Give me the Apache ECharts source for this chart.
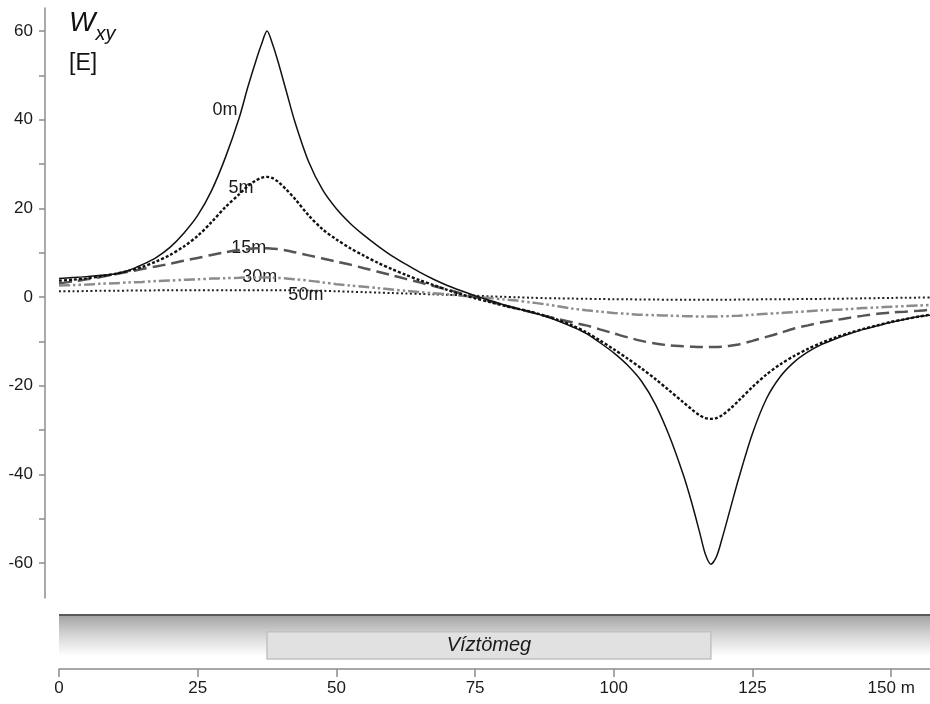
<!DOCTYPE html>
<html>
<head>
<meta charset="utf-8">
<script src="https://cdn.jsdelivr.net/npm/echarts@6/dist/echarts.min.js"></script>
<style>
html,body{margin:0;padding:0;background:#fff;}
#chart{width:930px;height:704px;}
</style>
</head>
<body>
<div id="chart"></div>
<script>
// ---- data ----
const xs = [0, 2.5, 5, 7.5, 10, 12.5, 15, 17.5, 20, 22.5,
  25, 27.5, 30, 32.5, 34, 35.5, 36.5, 37.5, 38.5, 39.5,
  41, 42.5, 45, 47.5, 50, 52.5, 55, 57.5, 60, 62.5,
  65, 67.5, 70, 72.5, 75, 77.5, 80, 82.5, 85, 87.5,
  90, 92.5, 95, 97.5, 100, 102.5, 105, 107.5, 110, 112.5,
  114, 115.5, 116.5, 117.5, 118.5, 119.5, 121, 122.5, 125, 127.5,
  130, 132.5, 135, 137.5, 140, 142.5, 145, 147.5, 150, 152.5,
  155, 157];

const w0m = [4.2, 4.4, 4.6, 4.9, 5.2, 6.0, 7.3, 8.9, 11.2, 14.4,
  18.4, 24.0, 31.5, 40.5, 47.2, 53.3, 57.0, 60.0, 57.0, 53.0,
  46.3, 39.6, 30.5, 24.2, 19.9, 16.6, 13.9, 11.5, 9.3, 7.4,
  5.6, 4.0, 2.6, 1.4, 0.3, -0.7, -1.7, -2.6, -3.4, -4.3,
  -5.4, -6.7, -8.2, -10.3, -12.6, -15.4, -19.0, -24.2, -31.3, -40.0,
  -46.2, -53.2, -58.0, -60.3, -58.6, -54.6, -47.8, -41.0, -30.8, -23.0,
  -18.0, -14.7, -12.4, -10.7, -9.4, -8.3, -7.3, -6.5, -5.7, -5.0,
  -4.4, -4.1];

const w5m = [3.7, 3.9, 4.2, 4.7, 5.2, 5.9, 6.8, 8.0, 9.5, 11.4,
  13.8, 16.9, 20.3, 23.2, 25.0, 26.3, 26.9, 27.1, 26.8, 26.0,
  24.2, 22.2, 18.4, 15.3, 13.0, 11.0, 9.3, 7.7, 6.3, 5.0,
  3.8, 2.7, 1.6, 0.6, -0.3, -1.1, -1.9, -2.6, -3.3, -4.2,
  -5.2, -6.4, -7.9, -9.8, -11.8, -13.9, -16.1, -18.5, -21.1, -23.7,
  -25.3, -26.7, -27.3, -27.5, -27.3, -26.7, -25.2, -23.4, -20.3, -17.5,
  -15.2, -13.3, -11.7, -10.3, -9.1, -8.1, -7.2, -6.4, -5.6, -5.0,
  -4.4, -4.0];

const w15m = [3.1, 3.5, 4.0, 4.5, 5.1, 5.7, 6.3, 6.9, 7.5, 8.2,
  8.8, 9.5, 10.1, 10.6, 10.8, 11.0, 11.0, 11.0, 10.9, 10.8,
  10.5, 10.1, 9.4, 8.7, 8.0, 7.3, 6.5, 5.7, 4.9, 4.1,
  3.3, 2.5, 1.7, 0.8, 0.0, -0.9, -1.8, -2.6, -3.4, -4.2,
  -5.0, -5.7, -6.4, -7.3, -8.2, -9.1, -9.9, -10.5, -10.9, -11.1,
  -11.2, -11.3, -11.3, -11.3, -11.3, -11.2, -11.0, -10.7, -9.9, -9.0,
  -8.1, -7.1, -6.4, -5.7, -5.2, -4.7, -4.2, -3.8, -3.5, -3.3,
  -3.1, -2.9];

const w30m = [2.6, 2.7, 2.8, 3.0, 3.1, 3.3, 3.4, 3.6, 3.7, 3.9,
  4.0, 4.15, 4.25, 4.35, 4.4, 4.4, 4.4, 4.4, 4.35, 4.3,
  4.2, 4.0, 3.7, 3.3, 2.9, 2.6, 2.3, 2.0, 1.7, 1.4,
  1.1, 0.85, 0.6, 0.3, 0.0, -0.2, -0.5, -0.8, -1.2, -1.6,
  -2.1, -2.6, -3.0, -3.3, -3.6, -3.8, -4.0, -4.1, -4.2, -4.3,
  -4.35, -4.4, -4.4, -4.4, -4.4, -4.35, -4.3, -4.2, -4.0, -3.8,
  -3.6, -3.4, -3.2, -3.0, -2.9, -2.7, -2.5, -2.35, -2.2, -2.05,
  -1.9, -1.8];

const w50m = [1.3, 1.3, 1.35, 1.4, 1.4, 1.45, 1.45, 1.5, 1.5, 1.5,
  1.55, 1.55, 1.55, 1.55, 1.55, 1.55, 1.55, 1.55, 1.55, 1.55,
  1.5, 1.5, 1.45, 1.4, 1.3, 1.2, 1.1, 1.0, 0.9, 0.8,
  0.7, 0.6, 0.5, 0.4, 0.3, 0.15, 0.05, -0.05, -0.15, -0.25,
  -0.3, -0.35, -0.4, -0.45, -0.5, -0.52, -0.55, -0.58, -0.6, -0.6,
  -0.6, -0.6, -0.6, -0.6, -0.6, -0.6, -0.6, -0.58, -0.55, -0.52,
  -0.5, -0.48, -0.45, -0.42, -0.4, -0.35, -0.3, -0.25, -0.2, -0.17,
  -0.13, -0.1];

const seriesNames = ['0m', '5m', '15m', '30m', '50m'];
const yTickValues = [-60, -50, -40, -30, -20, -10, 0, 10, 20, 30, 40, 50, 60];
const yLabelValues = [-60, -40, -20, 0, 20, 40, 60];
const xTickValues = [0, 25, 50, 75, 100, 125, 150];
const xTickLabels = ['0', '25', '50', '75', '100', '125', '150 m'];
const profileExtent = [0, 157];
const waterBody = [37.5, 117.5];
const waterLabel = 'Víztömeg';

// ---- chart ----
const FONT = '"Liberation Sans", Arial, sans-serif';
const chart = echarts.init(document.getElementById('chart'), null, {renderer: 'canvas'});

function pairs(vals) { return xs.map((x, i) => [x, vals[i]]); }

const styles = [
  {color: '#111111', width: 1.5, type: 'solid'},
  {color: '#111111', width: 2.4, type: [3, 2]},
  {color: '#555555', width: 2.5, type: [13, 6]},
  {color: '#8c8c8c', width: 2.5, type: [11, 3, 2.5, 3, 2.5, 3]},
  {color: '#222222', width: 2, type: [2, 2.5]}
];
const labelAnchors = [[29.9, 42.2], [32.8, 24.6], [34.2, 11.1], [36.2, 4.4], [44.5, 0.45]];
const allVals = [w0m, w5m, w15m, w30m, w50m];

const lineSeries = allVals.map((vals, i) => ({
  type: 'line',
  name: seriesNames[i],
  xAxisIndex: 0, yAxisIndex: 0,
  data: pairs(vals),
  showSymbol: false,
  smooth: 0.3,
  silent: true,
  lineStyle: {color: styles[i].color, width: styles[i].width, type: styles[i].type},
  z: 10 - i,
  markPoint: {
    symbol: 'rect', symbolSize: 1,
    itemStyle: {color: 'rgba(0,0,0,0)'},
    label: {show: true, position: 'inside', formatter: seriesNames[i], color: '#1a1a1a', fontSize: 18, fontFamily: FONT},
    data: [{coord: labelAnchors[i]}],
    silent: true
  }
}));

const option = {
  animation: false,
  backgroundColor: '#ffffff',
  grid: [
    {left: 59, right: 0, top: 8, height: 590},
    {left: 59, right: 0, top: 615, height: 54}
  ],
  xAxis: [
    {gridIndex: 0, type: 'value', min: profileExtent[0], max: profileExtent[1], show: false},
    {
      gridIndex: 1, type: 'value', min: profileExtent[0], max: profileExtent[1],
      splitLine: {show: false},
      axisLine: {show: true, onZero: false, lineStyle: {color: '#8c8c8c', width: 1.5}},
      axisTick: {show: true, length: 8, lineStyle: {color: '#8c8c8c', width: 1.5}, customValues: xTickValues},
      axisLabel: {
        color: '#1a1a1a', fontSize: 17, fontFamily: FONT, margin: 11,
        customValues: xTickValues,
        formatter: v => xTickLabels[xTickValues.indexOf(v)] || ''
      }
    }
  ],
  yAxis: [
    {
      gridIndex: 0, type: 'value', min: -67.9, max: 65.2, offset: 14,
      splitLine: {show: false},
      axisLine: {show: true, onZero: false, lineStyle: {color: '#8c8c8c', width: 1.5}},
      axisTick: {show: true, length: 6, lineStyle: {color: '#8c8c8c', width: 1.5}, customValues: yTickValues},
      axisLabel: {color: '#1a1a1a', fontSize: 17, fontFamily: FONT, margin: 12, customValues: yLabelValues}
    },
    {gridIndex: 1, type: 'value', min: 0, max: 1, show: false}
  ],
  graphic: [
    {type: 'text', left: 69, top: 9, style: {
      text: '{w|W}{s|xy}', fill: '#111',
      rich: {
        w: {fontSize: 28, fontStyle: 'italic', fontFamily: FONT, fill: '#111', verticalAlign: 'bottom', lineHeight: 32},
        s: {fontSize: 20, fontStyle: 'italic', fontFamily: FONT, fill: '#111', padding: [0, 0, -7, 0], verticalAlign: 'bottom', lineHeight: 32}
      }
    }},
    {type: 'text', left: 69, top: 52, style: {text: '[E]', fontSize: 23, fontFamily: FONT, fill: '#111'}}
  ],
  series: lineSeries.concat([
    {
      type: 'custom', xAxisIndex: 1, yAxisIndex: 1, silent: true, z: 1,
      data: [profileExtent],
      renderItem: function (params, api) {
        const a = api.coord([api.value(0), 1]);
        const b = api.coord([api.value(1), 0.24]);
        return {type: 'group', children: [
          {type: 'rect', shape: {x: a[0], y: a[1], width: b[0] - a[0], height: b[1] - a[1]},
           style: {fill: new echarts.graphic.LinearGradient(0, 0, 0, 1, [
             {offset: 0, color: '#a3a3a3'}, {offset: 0.5, color: '#d6d6d6'}, {offset: 1, color: '#ffffff'}])}},
          {type: 'line', shape: {x1: a[0], y1: a[1], x2: b[0], y2: a[1]},
           style: {stroke: '#5a5a5a', lineWidth: 2}}
        ]};
      }
    },
    {
      type: 'custom', xAxisIndex: 1, yAxisIndex: 1, silent: true, z: 2,
      data: [waterBody],
      renderItem: function (params, api) {
        const a = api.coord([api.value(0), 0.69]);
        const b = api.coord([api.value(1), 0.185]);
        return {type: 'group', children: [
          {type: 'rect', shape: {x: a[0], y: a[1], width: b[0] - a[0], height: b[1] - a[1]},
           style: {fill: '#e1e1e1', stroke: '#c2c2c2', lineWidth: 1.5}},
          {type: 'text', x: (a[0] + b[0]) / 2, y: (a[1] + b[1]) / 2,
           style: {text: waterLabel, fontSize: 20, fontStyle: 'italic', fontFamily: FONT, fill: '#1a1a1a', align: 'center', verticalAlign: 'middle'}}
        ]};
      }
    }
  ])
};
chart.setOption(option);
</script>
</body>
</html>
